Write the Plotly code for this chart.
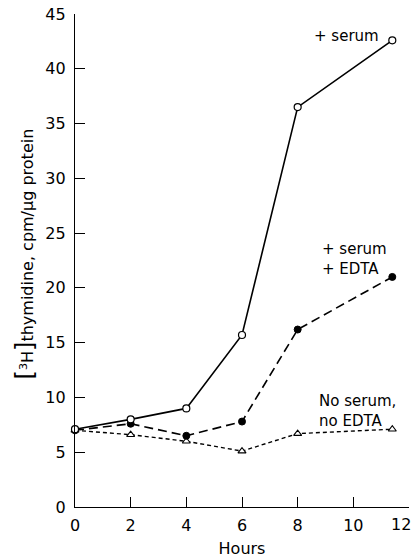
import plotly.graph_objects as go

# Time points (hours) and [3H]thymidine incorporation (cpm/µg protein)
hours = [0, 2, 4, 6, 8, 11.4]
serum = [7.1, 8.0, 9.0, 15.7, 36.5, 42.6]
serum_edta = [7.0, 7.6, 6.5, 7.8, 16.2, 21.0]
no_serum = [7.0, 6.6, 6.0, 5.1, 6.7, 7.1]

x_ticks = [0, 2, 4, 6, 8, 10, 12]
y_ticks = [0, 5, 10, 15, 20, 25, 30, 35, 40, 45]

FONT = "DejaVu Sans, Verdana, sans-serif"

fig = go.Figure()

fig.add_trace(go.Scatter(
    x=hours, y=no_serum, mode="lines+markers", cliponaxis=False,
    line=dict(color="black", width=1.4, dash="4px,3px"),
    marker=dict(symbol="triangle-up", size=7, color="white",
                line=dict(color="black", width=1.1)),
))
fig.add_trace(go.Scatter(
    x=hours, y=serum_edta, mode="lines+markers", cliponaxis=False,
    line=dict(color="black", width=1.6, dash="9px,5px"),
    marker=dict(symbol="circle", size=7, color="black",
                line=dict(color="black", width=1)),
))
fig.add_trace(go.Scatter(
    x=hours, y=serum, mode="lines+markers", cliponaxis=False,
    line=dict(color="black", width=1.6),
    marker=dict(symbol="circle", size=7, color="white",
                line=dict(color="black", width=1.2)),
))

label_font = dict(family=FONT, size=15, color="black")
fig.add_annotation(x=8.5, y=43.0, xref="x", yref="y", text="+ serum",
                   showarrow=False, xanchor="left", yanchor="middle",
                   font=label_font)
fig.add_annotation(x=8.8, y=22.6, xref="x", yref="y",
                   text="+ serum<br>+ EDTA", align="left",
                   showarrow=False, xanchor="left", yanchor="middle",
                   font=label_font)
fig.add_annotation(x=8.7, y=8.8, xref="x", yref="y",
                   text="No serum,<br>no EDTA", align="left",
                   showarrow=False, xanchor="left", yanchor="middle",
                   font=label_font)

# Y-axis title with tall brackets around the superscripted isotope
fig.add_annotation(
    x=-0.15, y=0.514, xref="paper", yref="paper",
    text=('<span style="font-size:24px">[</span><sup>3</sup>H'
          '<span style="font-size:24px">]</span>thymidine, cpm/μg protein'),
    textangle=-90, showarrow=False, xanchor="center", yanchor="middle",
    font=dict(family=FONT, size=16, color="black"),
)

# The last x tick label sits at the right edge of the figure; drawn separately
fig.add_annotation(
    x=12, y=0, xref="x", yref="paper", text="12", showarrow=False,
    xanchor="right", yanchor="top", xshift=4, yshift=-6,
    font=dict(family=FONT, size=16, color="black"),
)

fig.update_xaxes(
    range=[0, 12], tickvals=x_ticks,
    ticktext=[str(v) if v != 12 else "" for v in x_ticks],
    ticks="inside", ticklen=10, tickwidth=1.3, tickcolor="black",
    showline=True, linecolor="black", linewidth=1.3,
    showgrid=False, zeroline=False, ticklabelstandoff=4,
    tickfont=dict(family=FONT, size=16, color="black"),
    title=dict(text="Hours", standoff=8,
               font=dict(family=FONT, size=16, color="black")),
)
fig.update_yaxes(
    range=[0, 45], tickvals=y_ticks, ticktext=[str(v) for v in y_ticks],
    ticks="inside", ticklen=10, tickwidth=1.3, tickcolor="black",
    showline=True, linecolor="black", linewidth=1.3,
    showgrid=False, zeroline=False, ticklabelstandoff=5,
    tickfont=dict(family=FONT, size=16, color="black"),
)

fig.update_layout(
    width=414, height=560,
    margin=dict(l=75, r=5, t=13, b=47),
    paper_bgcolor="white", plot_bgcolor="white",
    showlegend=False,
)

fig.write_html("out.html")
